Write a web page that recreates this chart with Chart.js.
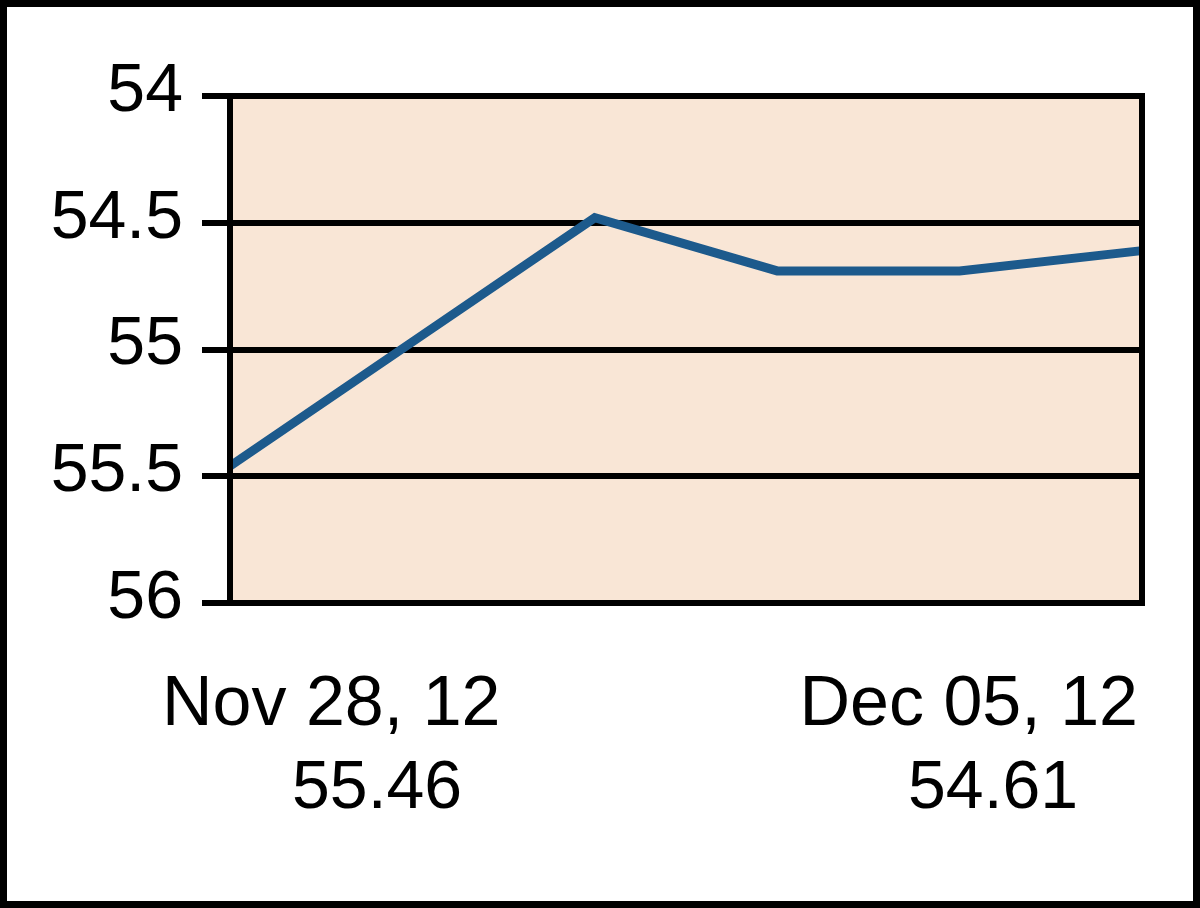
<!DOCTYPE html>
<html>
<head>
<meta charset="utf-8">
<script src="https://cdn.jsdelivr.net/npm/chart.js@4.4.1/dist/chart.umd.min.js"></script>
<style>
  html, body { margin: 0; padding: 0; background: #fff; }
  #wrap { width: 1200px; height: 908px; position: relative; }
</style>
</head>
<body>
<div id="wrap"><canvas id="price-chart" width="1200" height="908"></canvas></div>
<script>
const dates = ['Nov 28, 12', 'Nov 29, 12', 'Nov 30, 12', 'Dec 03, 12', 'Dec 04, 12', 'Dec 05, 12'];
const prices = [55.46, 54.97, 54.48, 54.69, 54.69, 54.61];
const yTicks = [54, 54.5, 55, 55.5, 56];

const FONT = '"Liberation Sans", Arial, sans-serif';

// peach plot background + frame around the whole picture
const backdrop = {
  id: 'backdrop',
  beforeDraw(chart) {
    const { ctx, chartArea: { left, top, right, bottom } } = chart;
    ctx.save();
    ctx.fillStyle = '#fff';
    ctx.fillRect(0, 0, chart.width, chart.height);
    ctx.fillStyle = '#f9e6d6';
    ctx.fillRect(left, top, right - left, bottom - top);
    ctx.restore();
  },
  afterDraw(chart) {
    const { ctx, chartArea: { left, top, right, bottom } } = chart;
    ctx.save();
    // plot box
    ctx.strokeStyle = '#000';
    ctx.lineWidth = 6;
    ctx.strokeRect(left, top, right - left, bottom - top);
    // outer frame
    ctx.lineWidth = 7;
    ctx.strokeRect(3.5, 3.5, chart.width - 7, chart.height - 7);

    // first / last date and value under the plot
    ctx.fillStyle = '#000';
    ctx.textBaseline = 'alphabetic';
    ctx.font = '70px ' + FONT;
    ctx.textAlign = 'left';
    ctx.fillText(dates[0], 162, 725);
    ctx.textAlign = 'right';
    ctx.fillText(dates[dates.length - 1], 1138, 725);
    ctx.font = '68px ' + FONT;
    ctx.textAlign = 'left';
    ctx.fillText(prices[0].toFixed(2), 292, 808);
    ctx.fillText(prices[prices.length - 1].toFixed(2), 908, 808);
    ctx.restore();
  }
};

const config = {
  type: 'line',
  data: {
    labels: dates,
    datasets: [{
      data: prices,
      borderColor: '#1d5a8c',
      borderWidth: 9,
      pointRadius: 0,
      tension: 0,
      fill: false,
    }]
  },
  options: {
    responsive: false,
    animation: false,
    layout: { padding: { left: 0, top: 96, right: 58, bottom: 0 } },
    plugins: {
      legend: { display: false },
      tooltip: { enabled: false },
    },
    scales: {
      x: {
        grid: { display: false },
        border: { display: false },
        ticks: { display: false },
        afterFit(scale) { scale.height = 305; }
      },
      y: {
        reverse: true,
        min: 54,
        max: 56,
        afterBuildTicks(scale) { scale.ticks = yTicks.map(v => ({ value: v })); },
        afterFit(scale) { scale.width = 230; },
        grid: {
          color: '#000',
          lineWidth: 6,
          tickLength: 28,
          drawTicks: true,
        },
        border: { display: true, color: '#000', width: 6 },
        ticks: {
          color: '#000',
          padding: 19,
          labelOffset: -4,
          font: { family: FONT, size: 68 },
          callback: v => String(v),
        }
      }
    }
  },
  plugins: [backdrop]
};

new Chart(document.getElementById('price-chart'), config);
</script>
</body>
</html>
